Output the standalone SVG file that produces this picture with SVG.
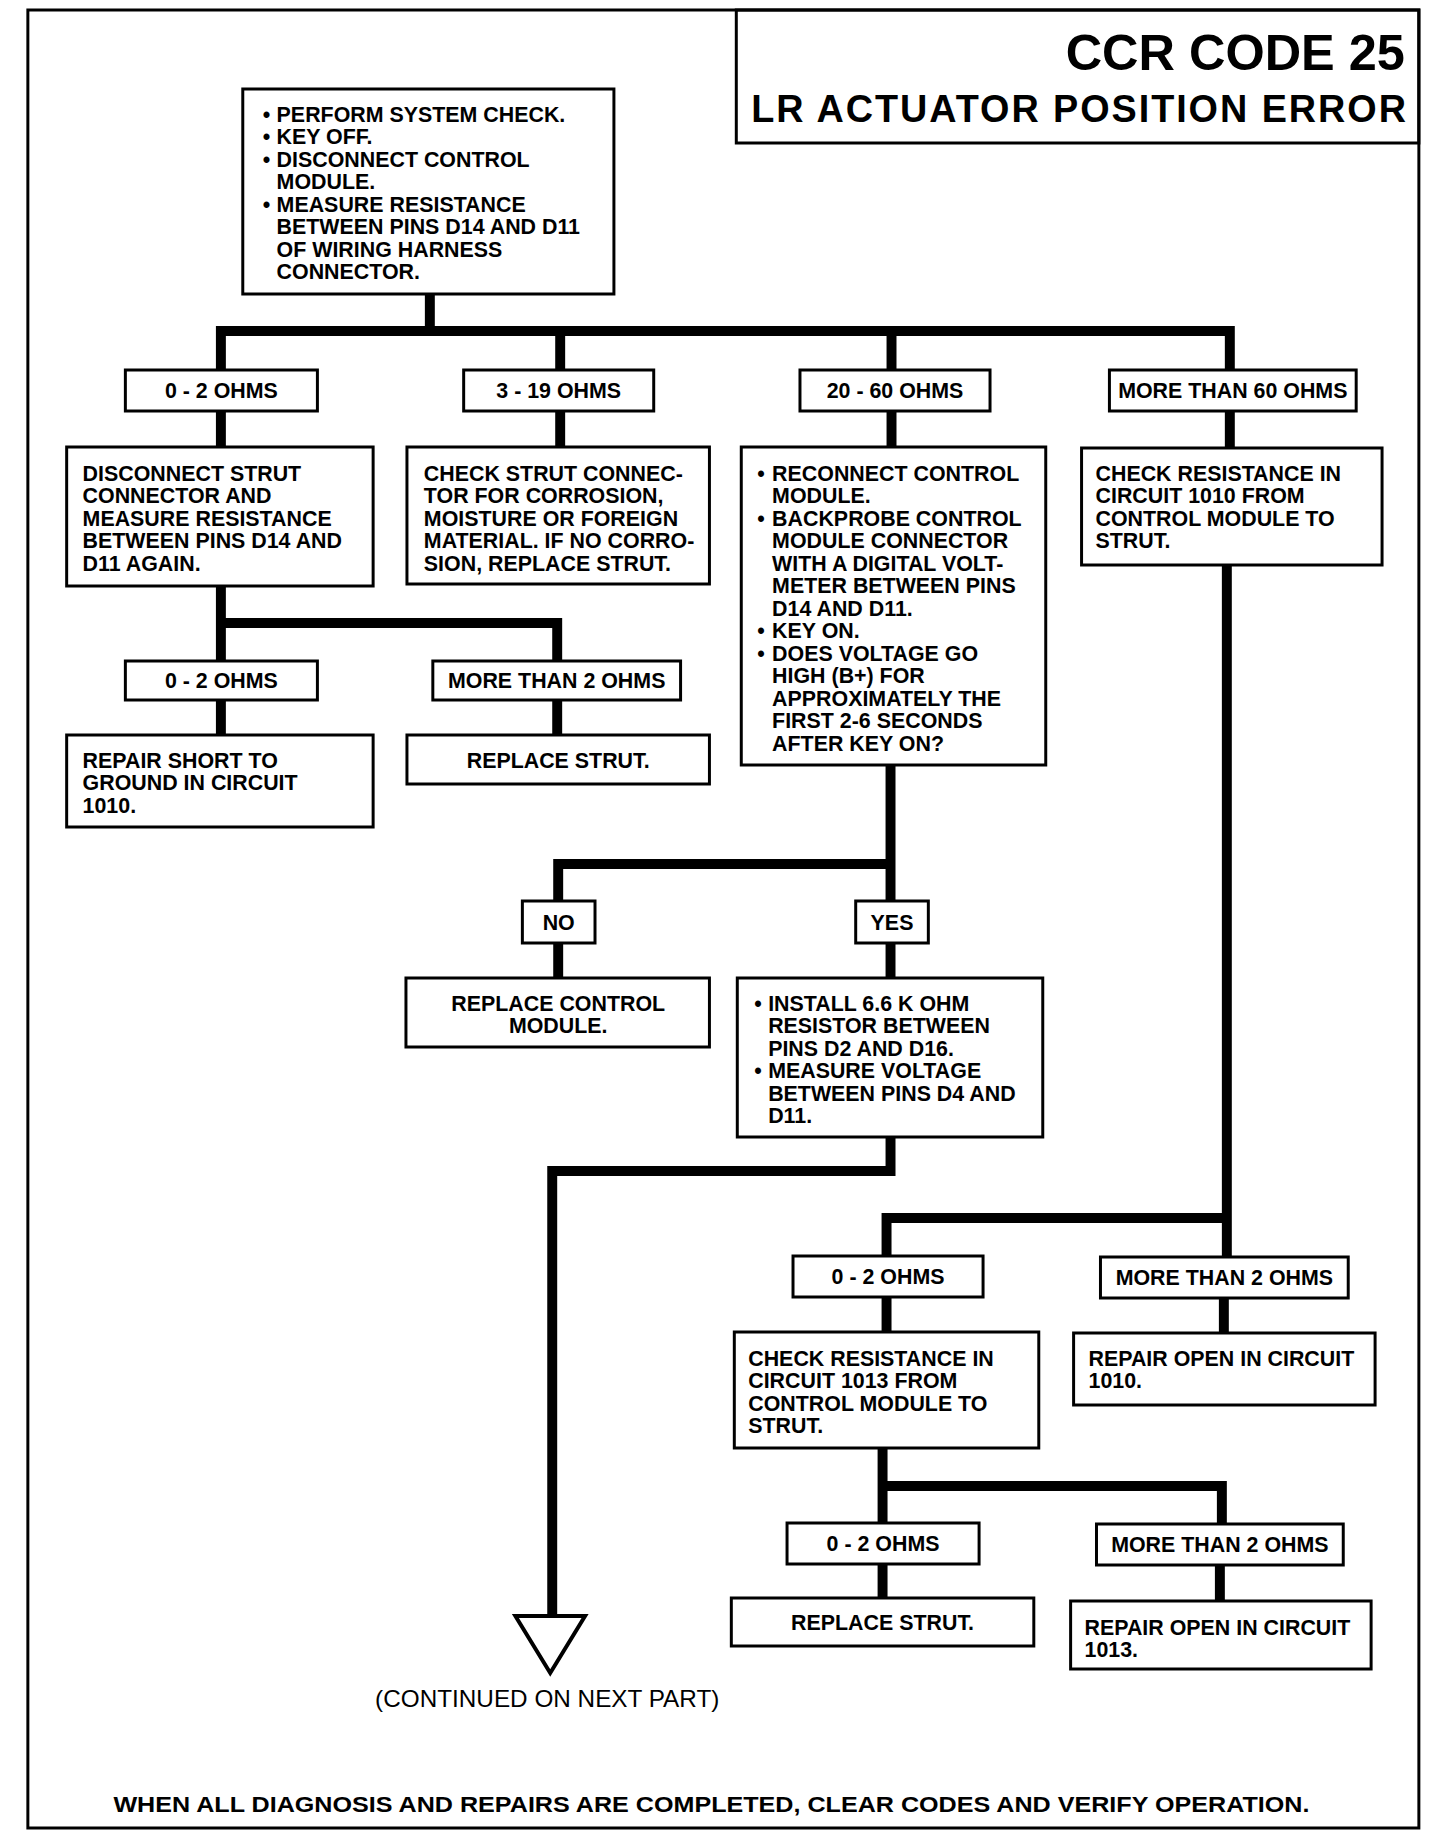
<svg xmlns="http://www.w3.org/2000/svg" width="1440" height="1838" viewBox="0 0 1440 1838">
<style>
.box{fill:#fff;stroke:#000;stroke-width:3}
.frame{fill:none;stroke:#000;stroke-width:3}
.conn{fill:none;stroke:#000;stroke-width:10;stroke-linejoin:miter}
.t{font-family:"Liberation Sans",Arial,Helvetica,sans-serif;font-weight:bold;font-size:21.5px;fill:#000}
.c{text-anchor:middle}
</style>
<rect width="1440" height="1838" fill="#fff"/>
<g id="page" transform="matrix(0.995 0 0 1 0 0)">
<rect class="frame" x="28" y="10" width="1398" height="1818"/>
<g id="title">
<rect class="frame" x="740" y="10" width="686" height="133"/>
<text class="t" x="1071" y="70" style="font-size:50px" textLength="341" lengthAdjust="spacingAndGlyphs">CCR CODE 25</text>
<text class="t" x="755" y="122" style="font-size:38px" textLength="658" lengthAdjust="spacing">LR ACTUATOR POSITION ERROR</text>
</g>
<g id="connectors">
<path class="conn" d="M432,294 V331"/>
<path class="conn" d="M222,370 V331 H1236 V449"/>
<path class="conn" d="M563,331 V447"/>
<path class="conn" d="M896,331 V447"/>
<path class="conn" d="M222,411 V447"/>
<path class="conn" d="M222,586 V661"/>
<path class="conn" d="M222,623 H560 V661"/>
<path class="conn" d="M222,700 V735"/>
<path class="conn" d="M560,700 V735"/>
<path class="conn" d="M895,765 V901"/>
<path class="conn" d="M895,864 H561 V901"/>
<path class="conn" d="M561,943 V978"/>
<path class="conn" d="M895,943 V978"/>
<path class="conn" d="M895,1137 V1171 H555 V1616"/>
<path class="conn" d="M1233,565 V1257"/>
<path class="conn" d="M1233,1218 H891 V1256"/>
<path class="conn" d="M891,1297 V1332"/>
<path class="conn" d="M1230,1298 V1333"/>
<path class="conn" d="M887,1448 V1523"/>
<path class="conn" d="M887,1486 H1228 V1524"/>
<path class="conn" d="M887,1564 V1598"/>
<path class="conn" d="M1226,1565 V1601"/>
<polygon points="518,1616 588,1616 553,1673" fill="#fff" stroke="#000" stroke-width="4" stroke-linejoin="miter"/>
</g>
<g id="start">
<rect class="box" x="244" y="89" width="373" height="205"/>
<text class="t"><tspan x="264" y="122">•</tspan><tspan x="278" y="122">PERFORM SYSTEM CHECK.</tspan><tspan x="264" y="144.5">•</tspan><tspan x="278" y="144.5">KEY OFF.</tspan><tspan x="264" y="167">•</tspan><tspan x="278" y="167">DISCONNECT CONTROL</tspan><tspan x="278" y="189.5">MODULE.</tspan><tspan x="264" y="212">•</tspan><tspan x="278" y="212">MEASURE RESISTANCE</tspan><tspan x="278" y="234.5">BETWEEN PINS D14 AND D11</tspan><tspan x="278" y="257">OF WIRING HARNESS</tspan><tspan x="278" y="279.5">CONNECTOR.</tspan></text>
</g>
<g id="l1a"><rect class="box" x="126" y="370" width="193" height="41"/><text class="t c" x="222.5" y="398">0 - 2 OHMS</text></g>
<g id="l1b"><rect class="box" x="466" y="370" width="191" height="41"/><text class="t c" x="561.5" y="398">3 - 19 OHMS</text></g>
<g id="l1c"><rect class="box" x="804" y="370" width="191" height="41"/><text class="t c" x="899.5" y="398">20 - 60 OHMS</text></g>
<g id="l1d"><rect class="box" x="1115" y="370" width="248" height="41"/><text class="t c" x="1239" y="398">MORE THAN 60 OHMS</text></g>
<g id="b1"><rect class="box" x="67" y="447" width="308" height="139"/>
<text class="t"><tspan x="83" y="481">DISCONNECT STRUT</tspan><tspan x="83" y="503.5">CONNECTOR AND</tspan><tspan x="83" y="526">MEASURE RESISTANCE</tspan><tspan x="83" y="548.5">BETWEEN PINS D14 AND</tspan><tspan x="83" y="571">D11 AGAIN.</tspan></text></g>
<g id="b2"><rect class="box" x="409" y="447" width="304" height="137"/>
<text class="t"><tspan x="426" y="481">CHECK STRUT CONNEC-</tspan><tspan x="426" y="503.5">TOR FOR CORROSION,</tspan><tspan x="426" y="526">MOISTURE OR FOREIGN</tspan><tspan x="426" y="548.5">MATERIAL. IF NO CORRO-</tspan><tspan x="426" y="571">SION, REPLACE STRUT.</tspan></text></g>
<g id="b3"><rect class="box" x="745" y="447" width="306" height="318"/>
<text class="t"><tspan x="761" y="481">•</tspan><tspan x="776" y="481">RECONNECT CONTROL</tspan><tspan x="776" y="503.5">MODULE.</tspan><tspan x="761" y="526">•</tspan><tspan x="776" y="526">BACKPROBE CONTROL</tspan><tspan x="776" y="548.5">MODULE CONNECTOR</tspan><tspan x="776" y="571">WITH A DIGITAL VOLT-</tspan><tspan x="776" y="593.5">METER BETWEEN PINS</tspan><tspan x="776" y="616">D14 AND D11.</tspan><tspan x="761" y="638.5">•</tspan><tspan x="776" y="638.5">KEY ON.</tspan><tspan x="761" y="661">•</tspan><tspan x="776" y="661">DOES VOLTAGE GO</tspan><tspan x="776" y="683.5">HIGH (B+) FOR</tspan><tspan x="776" y="706">APPROXIMATELY THE</tspan><tspan x="776" y="728.5">FIRST 2-6 SECONDS</tspan><tspan x="776" y="751">AFTER KEY ON?</tspan></text></g>
<g id="b4"><rect class="box" x="1087" y="448" width="302" height="117"/>
<text class="t"><tspan x="1101" y="481">CHECK RESISTANCE IN</tspan><tspan x="1101" y="503.5">CIRCUIT 1010 FROM</tspan><tspan x="1101" y="526">CONTROL MODULE TO</tspan><tspan x="1101" y="548.5">STRUT.</tspan></text></g>
<g id="l2a"><rect class="box" x="126" y="661" width="193" height="39"/><text class="t c" x="222.5" y="688">0 - 2 OHMS</text></g>
<g id="l2b"><rect class="box" x="435" y="661" width="249" height="39"/><text class="t c" x="559.5" y="688">MORE THAN 2 OHMS</text></g>
<g id="d1"><rect class="box" x="67" y="735" width="308" height="92"/>
<text class="t"><tspan x="83" y="768">REPAIR SHORT TO</tspan><tspan x="83" y="790.5">GROUND IN CIRCUIT</tspan><tspan x="83" y="813">1010.</tspan></text></g>
<g id="d2"><rect class="box" x="409" y="735" width="304" height="49"/><text class="t c" x="561" y="768">REPLACE STRUT.</text></g>
<g id="no"><rect class="box" x="525" y="901" width="73" height="42"/><text class="t c" x="561.5" y="930">NO</text></g>
<g id="yes"><rect class="box" x="860" y="901" width="73" height="42"/><text class="t c" x="896.5" y="930">YES</text></g>
<g id="e1"><rect class="box" x="408" y="978" width="305" height="69"/>
<text class="t c"><tspan x="561" y="1011">REPLACE CONTROL</tspan><tspan x="561" y="1033.5">MODULE.</tspan></text></g>
<g id="e2"><rect class="box" x="741" y="978" width="307" height="159"/>
<text class="t"><tspan x="758" y="1011">•</tspan><tspan x="772" y="1011">INSTALL 6.6 K OHM</tspan><tspan x="772" y="1033.5">RESISTOR BETWEEN</tspan><tspan x="772" y="1056">PINS D2 AND D16.</tspan><tspan x="758" y="1078.5">•</tspan><tspan x="772" y="1078.5">MEASURE VOLTAGE</tspan><tspan x="772" y="1101">BETWEEN PINS D4 AND</tspan><tspan x="772" y="1123.5">D11.</tspan></text></g>
<g id="f1"><rect class="box" x="797" y="1256" width="191" height="41"/><text class="t c" x="892.5" y="1284">0 - 2 OHMS</text></g>
<g id="f2"><rect class="box" x="1106" y="1257" width="249" height="41"/><text class="t c" x="1230.5" y="1285">MORE THAN 2 OHMS</text></g>
<g id="g1"><rect class="box" x="738" y="1332" width="306" height="116"/>
<text class="t"><tspan x="752" y="1366">CHECK RESISTANCE IN</tspan><tspan x="752" y="1388.5">CIRCUIT 1013 FROM</tspan><tspan x="752" y="1411">CONTROL MODULE TO</tspan><tspan x="752" y="1433.5">STRUT.</tspan></text></g>
<g id="g2"><rect class="box" x="1079" y="1333" width="303" height="72"/>
<text class="t"><tspan x="1094" y="1366">REPAIR OPEN IN CIRCUIT</tspan><tspan x="1094" y="1388.5">1010.</tspan></text></g>
<g id="h1"><rect class="box" x="791" y="1523" width="193" height="41"/><text class="t c" x="887.5" y="1551">0 - 2 OHMS</text></g>
<g id="h2"><rect class="box" x="1102" y="1524" width="248" height="41"/><text class="t c" x="1226" y="1552">MORE THAN 2 OHMS</text></g>
<g id="i1"><rect class="box" x="735" y="1598" width="304" height="48"/><text class="t c" x="887" y="1630">REPLACE STRUT.</text></g>
<g id="i2"><rect class="box" x="1076" y="1601" width="302" height="68"/>
<text class="t"><tspan x="1090" y="1635">REPAIR OPEN IN CIRCUIT</tspan><tspan x="1090" y="1657.5">1013.</tspan></text></g>
<g id="notes">
<text class="t" x="377" y="1707" style="font-weight:normal;font-size:24px" textLength="346" lengthAdjust="spacingAndGlyphs">(CONTINUED ON NEXT PART)</text>
<text class="t" x="114" y="1812" style="font-size:22px" textLength="1202" lengthAdjust="spacingAndGlyphs">WHEN ALL DIAGNOSIS AND REPAIRS ARE COMPLETED, CLEAR CODES AND VERIFY OPERATION.</text>
</g>
</g>
</svg>
